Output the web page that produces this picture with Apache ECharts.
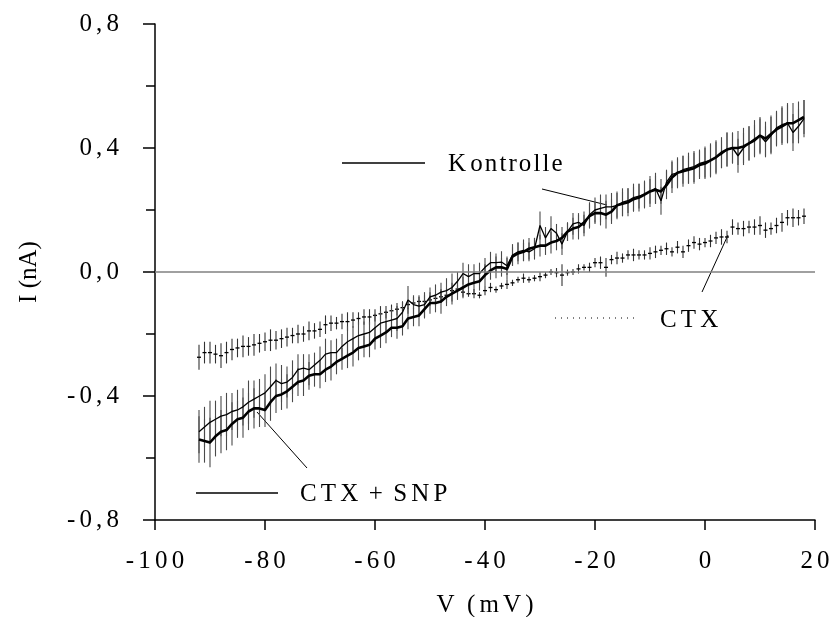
<!DOCTYPE html>
<html>
<head>
<meta charset="utf-8">
<script src="https://cdn.jsdelivr.net/npm/echarts@6/dist/echarts.min.js"></script>
<style>html,body{margin:0;padding:0;background:#fff}#c{width:831px;height:617px}</style>
</head>
<body>
<div id="c"></div>
<script>
const voltage = [-92,-91,-90,-89,-88,-87,-86,-85,-84,-83,-82,-81,-80,-79,-78,-77,-76,-75,
-74,-73,-72,-71,-70,-69,-68,-67,-66,-65,-64,-63,-62,-61,-60,-59,-58,-57,
-56,-55,-54,-53,-52,-51,-50,-49,-48,-47,-46,-45,-44,-43,-42,-41,-40,-39,
-38,-37,-36,-35,-34,-33,-32,-31,-30,-29,-28,-27,-26,-25,-24,-23,-22,-21,
-20,-19,-18,-17,-16,-15,-14,-13,-12,-11,-10,-9,-8,-7,-6,-5,-4,-3,
-2,-1,0,1,2,3,4,5,6,7,8,9,10,11,12,13,14,15,16,17,18];

const kontrolle = [-0.515,-0.50,-0.485,-0.475,-0.465,-0.46,-0.45,-0.445,-0.435,-0.42,-0.41,-0.40,-0.39,-0.37,-0.35,-0.36,-0.355,-0.34,
-0.315,-0.31,-0.315,-0.30,-0.285,-0.265,-0.26,-0.26,-0.24,-0.225,-0.215,-0.205,-0.20,-0.195,-0.18,-0.165,-0.16,-0.155,
-0.15,-0.13,-0.09,-0.105,-0.11,-0.105,-0.08,-0.075,-0.065,-0.06,-0.05,-0.03,-0.005,-0.015,-0.005,-0.005,0.015,0.03,
0.03,0.032,0.02,0.055,0.065,0.07,0.065,0.075,0.15,0.11,0.14,0.125,0.09,0.13,0.155,0.16,0.15,0.185,
0.20,0.205,0.21,0.21,0.215,0.225,0.23,0.24,0.245,0.25,0.26,0.27,0.23,0.29,0.315,0.32,0.33,0.335,
0.34,0.35,0.355,0.36,0.37,0.38,0.395,0.40,0.375,0.40,0.415,0.43,0.44,0.42,0.44,0.465,0.475,0.48,0.45,0.47,0.495];

const ctxSnp = [-0.54,-0.545,-0.55,-0.53,-0.515,-0.51,-0.49,-0.475,-0.47,-0.45,-0.44,-0.44,-0.445,-0.42,-0.40,-0.395,-0.385,-0.37,
-0.355,-0.35,-0.335,-0.33,-0.33,-0.315,-0.305,-0.29,-0.28,-0.27,-0.26,-0.245,-0.24,-0.235,-0.215,-0.205,-0.195,-0.18,
-0.18,-0.175,-0.15,-0.145,-0.14,-0.12,-0.10,-0.10,-0.095,-0.08,-0.07,-0.06,-0.05,-0.04,-0.035,-0.03,-0.01,0.005,
0.015,0.015,0.01,0.05,0.06,0.065,0.075,0.08,0.085,0.085,0.095,0.10,0.11,0.13,0.14,0.145,0.16,0.18,
0.19,0.19,0.185,0.195,0.215,0.22,0.225,0.235,0.24,0.25,0.26,0.265,0.26,0.28,0.305,0.32,0.325,0.33,
0.335,0.345,0.35,0.36,0.37,0.385,0.395,0.40,0.40,0.405,0.415,0.425,0.44,0.43,0.445,0.46,0.47,0.48,0.48,0.49,0.50];

const ctx = [-0.275,-0.26,-0.26,-0.265,-0.27,-0.26,-0.25,-0.245,-0.24,-0.24,-0.235,-0.23,-0.225,-0.22,-0.22,-0.215,-0.21,-0.205,
-0.20,-0.20,-0.19,-0.19,-0.185,-0.17,-0.165,-0.165,-0.16,-0.16,-0.155,-0.15,-0.145,-0.145,-0.14,-0.135,-0.13,-0.125,
-0.12,-0.115,-0.105,-0.10,-0.095,-0.095,-0.09,-0.085,-0.08,-0.075,-0.06,-0.055,-0.065,-0.07,-0.07,-0.075,-0.06,-0.05,
-0.057,-0.045,-0.04,-0.035,-0.025,-0.02,-0.025,-0.02,-0.015,-0.01,0.0,-0.002,-0.01,-0.002,0.0,0.01,0.015,0.015,
0.03,0.03,0.015,0.04,0.045,0.045,0.055,0.055,0.055,0.055,0.06,0.065,0.07,0.075,0.065,0.08,0.065,0.085,
0.095,0.09,0.095,0.10,0.11,0.113,0.113,0.145,0.14,0.14,0.145,0.145,0.15,0.135,0.14,0.15,0.16,0.175,0.175,0.175,0.18];

const kontrolleErr = [0.07,0.065,0.07,0.06,0.065,0.07,0.06,0.065,0.06,0.07,0.06,0.055,0.06,0.065,0.055,0.06,0.05,0.055,
0.05,0.045,0.05,0.04,0.045,0.05,0.04,0.045,0.04,0.05,0.04,0.045,0.04,0.035,0.045,0.04,0.035,0.04,
0.04,0.035,0.045,0.03,0.035,0.04,0.03,0.035,0.03,0.04,0.045,0.03,0.035,0.04,0.03,0.035,0.03,0.035,
0.03,0.035,0.03,0.035,0.03,0.035,0.03,0.035,0.045,0.035,0.04,0.03,0.035,0.03,0.035,0.03,0.035,0.04,
0.04,0.045,0.04,0.045,0.04,0.045,0.04,0.045,0.04,0.045,0.04,0.05,0.045,0.04,0.045,0.05,0.045,0.05,
0.05,0.045,0.05,0.055,0.05,0.045,0.055,0.05,0.055,0.05,0.055,0.06,0.055,0.05,0.06,0.055,0.06,0.065,0.06,0.055,0.06];

const ctxSnpErr = [0.075,0.07,0.08,0.065,0.07,0.065,0.07,0.06,0.065,0.06,0.065,0.06,0.055,0.06,0.055,0.05,0.055,0.05,
0.045,0.05,0.045,0.04,0.045,0.04,0.045,0.04,0.035,0.04,0.045,0.04,0.035,0.04,0.035,0.04,0.035,0.03,
0.035,0.03,0.035,0.03,0.035,0.03,0.035,0.03,0.04,0.03,0.035,0.03,0.035,0.03,0.035,0.03,0.035,0.03,
0.035,0.03,0.035,0.03,0.035,0.03,0.035,0.03,0.035,0.03,0.035,0.03,0.035,0.03,0.035,0.04,0.035,0.04,
0.035,0.04,0.045,0.04,0.045,0.04,0.045,0.04,0.045,0.04,0.05,0.045,0.04,0.045,0.05,0.045,0.05,0.045,
0.05,0.045,0.05,0.05,0.055,0.05,0.055,0.05,0.055,0.06,0.055,0.05,0.06,0.055,0.06,0.055,0.06,0.06,0.065,0.06,0.055];

const ctxErr = [0.04,0.035,0.035,0.03,0.04,0.035,0.035,0.03,0.035,0.03,0.035,0.03,0.03,0.035,0.03,0.03,0.03,0.025,
0.03,0.025,0.03,0.025,0.025,0.03,0.025,0.02,0.025,0.03,0.025,0.02,0.025,0.025,0.02,0.025,0.02,0.02,
0.02,0.02,0.015,0.02,0.015,0.02,0.015,0.015,0.02,0.015,0.01,0.015,0.015,0.01,0.015,0.01,0.015,0.015,
0.01,0.01,0.015,0.01,0.01,0.015,0.01,0.01,0.015,0.01,0.01,0.015,0.035,0.01,0.01,0.015,0.01,0.015,
0.015,0.02,0.03,0.015,0.02,0.015,0.015,0.02,0.015,0.015,0.02,0.02,0.015,0.02,0.015,0.02,0.02,0.02,
0.02,0.02,0.015,0.02,0.02,0.025,0.02,0.025,0.02,0.025,0.02,0.025,0.03,0.025,0.02,0.025,0.03,0.025,0.03,0.025,0.025];

const xTicks = [-100, -80, -60, -40, -20, 0, 20];
const yTicks = [-0.8, -0.4, 0.0, 0.4, 0.8];

const SERIF = '"Liberation Serif", "DejaVu Serif", serif';
const FS = 25;
const wide = '\u2005';
const mid = '\u2006';
const hair = '\u200A';
function spaced(s, gap) { return s.split('').join(gap || mid); }

function triples(ys, es) { return voltage.map((v, i) => [v, ys[i], es[i]]); }
function pairs(ys) { return voltage.map((v, i) => [v, ys[i]]); }

function errRender(color, dash) {
  return function (params, api) {
    const x = api.value(0), y = api.value(1), e = api.value(2);
    const top = api.coord([x, y + e]);
    const bot = api.coord([x, y - e]);
    const children = [{
      type: 'line',
      shape: { x1: top[0], y1: top[1], x2: bot[0], y2: bot[1] },
      style: { stroke: color, lineWidth: 1.1 }
    }];
    if (dash) {
      const c = api.coord([x, y]);
      children.push({
        type: 'line',
        shape: { x1: c[0] - 2, y1: c[1], x2: c[0] + 2, y2: c[1] },
        style: { stroke: '#000', lineWidth: 1.3 }
      });
    }
    return { type: 'group', children: children };
  };
}

const chart = echarts.init(document.getElementById('c'), null, { renderer: 'canvas' });

const textStyle = { fontFamily: SERIF, fontSize: FS, fill: '#000' };

chart.setOption({
  animation: false,
  backgroundColor: '#fff',
  grid: { left: 155, right: 16, top: 24, bottom: 97, containLabel: false, outerBoundsMode: 'none' },
  xAxis: {
    type: 'value', min: -100, max: 20, interval: 20,
    name: 'V' + wide + wide + spaced('(mV)'),
    nameLocation: 'middle', nameGap: 73,
    nameTextStyle: { fontFamily: SERIF, fontSize: FS, color: '#000' },
    axisLine: { show: true, onZero: false, lineStyle: { color: '#000', width: 1.5 } },
    axisTick: { show: true, inside: false, length: 10, lineStyle: { color: '#000', width: 1.5 } },
    axisLabel: { fontFamily: SERIF, fontSize: FS, color: '#000', margin: 29,
      formatter: v => xTicks.indexOf(v) >= 0 ? spaced(String(v)) : '' },
    splitLine: { show: false }
  },
  yAxis: {
    type: 'value', min: -0.8, max: 0.8, interval: 0.4,
    name: 'I (nA)', nameLocation: 'middle', nameGap: 113, nameRotate: 90,
    nameTextStyle: { fontFamily: SERIF, fontSize: FS, color: '#000' },
    axisLine: { show: true, onZero: false, lineStyle: { color: '#000', width: 1.5 } },
    axisTick: { show: true, inside: false, length: 12, lineStyle: { color: '#000', width: 1.5 } },
    minorTick: { show: true, splitNumber: 2, length: 9, lineStyle: { color: '#000', width: 1.5 } },
    axisLabel: { fontFamily: SERIF, fontSize: FS, color: '#000', margin: 36,
      formatter: v => {
        const r = Math.round(v * 10) / 10;
        return spaced(r.toFixed(1).replace('.', ','));
      } },
    splitLine: { show: false }
  },
  series: [
    {
      name: 'zero', type: 'line', data: [], silent: true,
      markLine: { silent: true, symbol: ['none', 'none'], label: { show: false },
        lineStyle: { color: '#808080', width: 1.5, type: 'solid' },
        data: [{ yAxis: 0 }] }
    },
    { name: 'CTX err', type: 'custom', renderItem: errRender('#333', true), data: triples(ctx, ctxErr), z: 2 },
    { name: 'Kontrolle err', type: 'custom', renderItem: errRender('#4a4a4a', false), data: triples(kontrolle, kontrolleErr), z: 2 },
    { name: 'CTX + SNP err', type: 'custom', renderItem: errRender('#4a4a4a', false), data: triples(ctxSnp, ctxSnpErr), z: 2 },
    { name: 'Kontrolle', type: 'line', data: pairs(kontrolle), showSymbol: false, symbol: 'none',
      lineStyle: { color: '#000', width: 1.3 }, z: 3 },
    { name: 'CTX + SNP', type: 'line', data: pairs(ctxSnp), showSymbol: false, symbol: 'none',
      lineStyle: { color: '#000', width: 2.6 }, z: 3 }
  ],
  graphic: [
    { type: 'line', shape: { x1: 342, y1: 163, x2: 425, y2: 163 }, style: { stroke: '#000', lineWidth: 1.3 } },
    { type: 'text', x: 448, y: 164, style: Object.assign({ text: 'K' + mid + spaced('ontrolle', hair), verticalAlign: 'middle' }, textStyle) },
    { type: 'line', shape: { x1: 542, y1: 189, x2: 607, y2: 205 }, style: { stroke: '#000', lineWidth: 1 } },

    { type: 'line', shape: { x1: 555, y1: 318, x2: 637, y2: 318 }, style: { stroke: '#000', lineWidth: 1, lineDash: [1, 5] } },
    { type: 'text', x: 660, y: 320, style: Object.assign({ text: spaced('CTX', mid), verticalAlign: 'middle' }, textStyle) },
    { type: 'line', shape: { x1: 702, y1: 292, x2: 728, y2: 235 }, style: { stroke: '#000', lineWidth: 1 } },

    { type: 'line', shape: { x1: 196, y1: 493, x2: 278, y2: 493 }, style: { stroke: '#000', lineWidth: 1.5 } },
    { type: 'text', x: 300, y: 494, style: Object.assign({ text: spaced('CTX', mid) + ' ' + mid + '+' + ' ' + mid + spaced('SNP', mid), verticalAlign: 'middle' }, textStyle) },
    { type: 'line', shape: { x1: 257, y1: 412, x2: 307, y2: 468 }, style: { stroke: '#000', lineWidth: 1 } }
  ]
});
</script>
</body>
</html>
